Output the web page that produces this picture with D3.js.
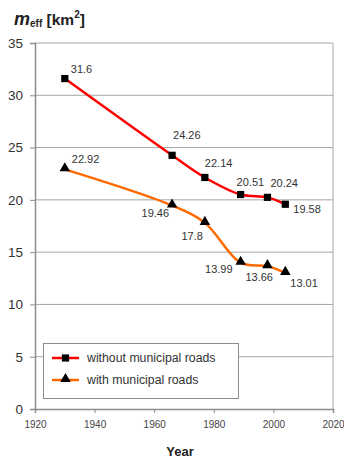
<!DOCTYPE html>
<html>
<head>
<meta charset="utf-8">
<script src="https://cdn.jsdelivr.net/npm/d3@7"></script>
<style>
  html, body { margin: 0; padding: 0; background: #fff; }
  svg { display: block; font-family: "Liberation Sans", Arial, sans-serif; }
</style>
</head>
<body>
<svg id="chart" width="344" height="459"></svg>
<script>
// ---- data ----
const years = [1930, 1966, 1977, 1989, 1998, 2004];
const withoutMunicipal = [31.6, 24.26, 22.14, 20.51, 20.24, 19.58];
const withMunicipal = [22.92, 19.46, 17.8, 13.99, 13.66, 13.01];
const seriesNames = ["without municipal roads", "with municipal roads"];
const yTicks = [0, 5, 10, 15, 20, 25, 30, 35];
const xTicks = [1920, 1940, 1960, 1980, 2000, 2020];

// label placement (offset from point, text anchor)
const redLabelPlace = [[6, -6, "start"], [1, -16, "start"], [0, -10, "start"], [-4, -9, "start"], [3, -10, "start"], [8, 9, "start"]];
const orangeLabelPlace = [[7, -6, "start"], [-3, 11, "end"], [-2, 17, "end"], [-8, 10, "end"], [-22, 15, "start"], [5, 14, "start"]];

const svg = d3.select("#chart");
const pLeft = 35, pRight = 333, pTop = 43, pBottom = 409;

const x = d3.scaleLinear().domain([1920, 2020]).range([pLeft, pRight]);
const y = d3.scaleLinear().domain([0, 35]).range([pBottom, pTop]);

// gridlines
svg.append("g").selectAll("line").data(yTicks.filter(d => d > 0)).join("line")
  .attr("x1", pLeft).attr("x2", pRight)
  .attr("y1", d => y(d)).attr("y2", d => y(d))
  .attr("stroke", "#a6a6a6").attr("stroke-width", 1);

// right border
svg.append("line").attr("x1", pRight).attr("x2", pRight).attr("y1", pTop).attr("y2", pBottom)
  .attr("stroke", "#a6a6a6").attr("stroke-width", 1);

// y axis
const yAxis = svg.append("g").attr("transform", `translate(${pLeft},0)`)
  .call(d3.axisLeft(y).tickValues(yTicks).tickSize(5).tickPadding(7).tickFormat(d3.format("d")));
yAxis.select(".domain").attr("stroke", "#8c8c8c").attr("stroke-width", 1.5);
yAxis.selectAll(".tick line").attr("stroke", "#8c8c8c");
yAxis.selectAll("text").attr("font-size", 13.5).attr("fill", "#333");

// x axis
const xAxis = svg.append("g").attr("transform", `translate(0,${pBottom})`)
  .call(d3.axisBottom(x).tickValues(xTicks).tickSize(4).tickPadding(8).tickFormat(d3.format("d")));
xAxis.select(".domain").attr("stroke", "#8c8c8c").attr("stroke-width", 1.5);
xAxis.selectAll(".tick line").attr("stroke", "#8c8c8c");
xAxis.selectAll("text").attr("font-size", 10).attr("fill", "#444");

// lines
const line = d3.line().x(d => x(d[0])).y(d => y(d[1])).curve(d3.curveCatmullRom.alpha(0.5));
const redData = years.map((yr, i) => [yr, withoutMunicipal[i]]);
const orangeData = years.map((yr, i) => [yr, withMunicipal[i]]);
const red = "#ff0000", orange = "#ff6a00";

svg.append("path").datum(redData).attr("d", line).attr("fill", "none")
  .attr("stroke", red).attr("stroke-width", 2.5);
svg.append("path").datum(orangeData).attr("d", line).attr("fill", "none")
  .attr("stroke", orange).attr("stroke-width", 2.5);

// markers
const sq = d3.symbol().type(d3.symbolSquare).size(52);
const tri = d3.symbol().type(d3.symbolTriangle).size(48);
svg.append("g").selectAll("path").data(redData).join("path")
  .attr("d", sq).attr("transform", d => `translate(${x(d[0])},${y(d[1])})`).attr("fill", "#000");
svg.append("g").selectAll("path").data(orangeData).join("path")
  .attr("d", tri).attr("transform", d => `translate(${x(d[0])},${y(d[1]) - 1})`).attr("fill", "#000");

// data labels
svg.append("g").selectAll("text").data(redData).join("text")
  .attr("x", (d, i) => x(d[0]) + redLabelPlace[i][0])
  .attr("y", (d, i) => y(d[1]) + redLabelPlace[i][1])
  .attr("text-anchor", (d, i) => redLabelPlace[i][2])
  .attr("font-size", 11).attr("fill", "#333").text(d => d[1]);
svg.append("g").selectAll("text").data(orangeData).join("text")
  .attr("x", (d, i) => x(d[0]) + orangeLabelPlace[i][0])
  .attr("y", (d, i) => y(d[1]) + orangeLabelPlace[i][1])
  .attr("text-anchor", (d, i) => orangeLabelPlace[i][2])
  .attr("font-size", 11).attr("fill", "#333").text(d => d[1]);

// legend
const lg = svg.append("g");
lg.append("rect").attr("x", 43.5).attr("y", 343.5).attr("width", 195).attr("height", 55)
  .attr("fill", "#fff").attr("stroke", "#8c8c8c").attr("stroke-width", 1);
const legendItems = [
  { name: seriesNames[0], color: red, sym: sq },
  { name: seriesNames[1], color: orange, sym: tri }
];
legendItems.forEach((it, i) => {
  const cy = 358 + i * 22;
  lg.append("line").attr("x1", 52).attr("x2", 79).attr("y1", cy).attr("y2", cy)
    .attr("stroke", it.color).attr("stroke-width", 2.5);
  lg.append("path").attr("d", it.sym).attr("transform", `translate(65.5,${cy - (i ? 1 : 0)})`).attr("fill", "#000");
  lg.append("text").attr("x", 87).attr("y", cy + 4).attr("font-size", 12.3).attr("fill", "#333").text(it.name);
});

// title
const title = svg.append("text").attr("x", 14).attr("y", 25).attr("font-weight", "bold").attr("fill", "#222");
title.append("tspan").attr("font-style", "italic").attr("font-size", 18).text("m");
title.append("tspan").attr("font-size", 10).attr("dy", 2).text("eff");
title.append("tspan").attr("font-size", 15.5).attr("dy", -2).text(" [km");
title.append("tspan").attr("font-size", 10).attr("dy", -7).text("2");
title.append("tspan").attr("font-size", 15.5).attr("dy", 7).text("]");

// x axis title
svg.append("text").attr("x", 180).attr("y", 456).attr("text-anchor", "middle")
  .attr("font-weight", "bold").attr("font-size", 13).attr("fill", "#222").text("Year");
</script>
</body>
</html>
